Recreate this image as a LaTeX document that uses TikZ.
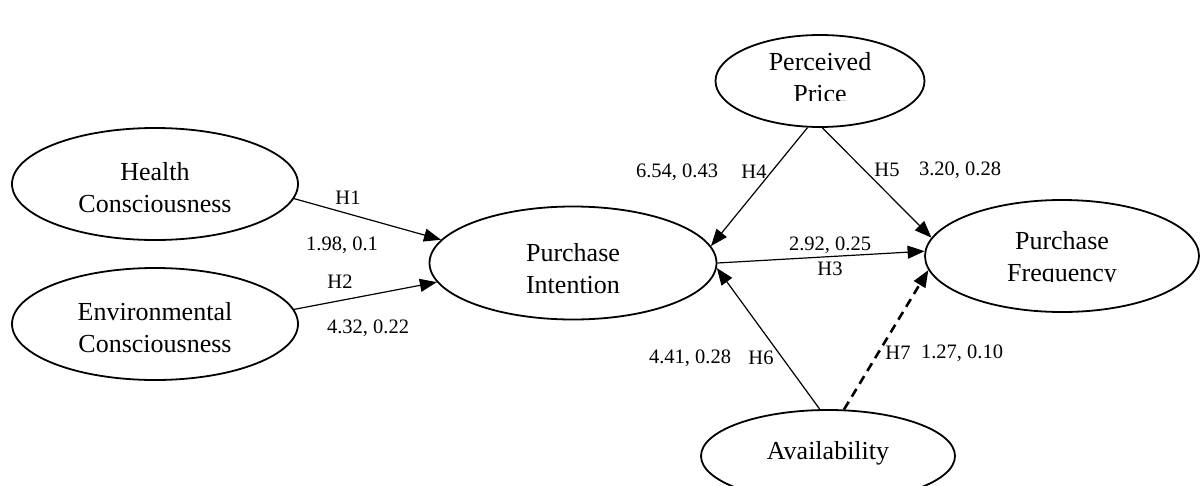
\documentclass[tikz,border=0pt]{standalone}
\usepackage{fontspec}
\setmainfont{Liberation Serif}
\usetikzlibrary{arrows.meta,shapes.geometric}
\begin{document}
\begin{tikzpicture}[x=1pt,y=-1pt,
 ell/.style={ellipse, draw, line width=1.8pt, inner sep=0pt},
 etxt/.style={align=center, font=\fontsize{26}{32}\selectfont, inner sep=0pt},
 lbl/.style={font=\fontsize{20.5}{24}\selectfont, inner sep=0pt},
 arr/.style={line width=1.2pt, -{Triangle[length=17pt,width=13pt]}},
 darr/.style={line width=2.6pt, dash pattern=on 9pt off 6pt, -{Triangle[length=17pt,width=13pt]}}]
\useasboundingbox (0,0) rectangle (1200,485);

% ellipses
\node[ell, minimum width=286pt, minimum height=112pt] (hc) at (155,184) {};
\node[ell, minimum width=286pt, minimum height=112pt] (ec) at (155,324) {};
\node[ell, minimum width=287pt, minimum height=113pt] (pi) at (573,263) {};
\node[ell, minimum width=209pt, minimum height=92pt] (pp) at (820,81) {};
\node[ell, minimum width=274pt, minimum height=112pt] (pf) at (1062,256) {};
\node[ell, minimum width=254pt, minimum height=92pt] (av) at (828,456) {};

% texts
\node[etxt] (hct) at (155,188) {Health\\Consciousness};
\node[etxt] (ect) at (155,328) {Environmental\\Consciousness};
\node[etxt] (pit) at (573,268.5) {Purchase\\Intention};
\node[etxt] (avt) at (828,453) {Availability};
% clipped texts (as in the reference)
\begin{scope}
  \clip (740,30) rectangle (900,100);
  \node[etxt] (ppt) at (820,78) {Perceived\\Price};
\end{scope}
\begin{scope}
  \clip (940,205) rectangle (1190,281.5);
  \node[etxt] (pft) at (1062,259) {Purchase\\Frequency};
\end{scope}

% connectors
\draw[arr] (hc.-6.4) -- (pi.170.8);
\draw[arr] (ec.6.7) -- (pi.188);
\draw[arr] (pi.0.5) -- (pf.178.8);
\draw[arr] (pp.255.4) -- (pi.7.1);
\draw[arr] (pp.273.7) -- (pf.172.5);
\draw[arr] (av.100) -- (pi.-2.8);
\draw[darr] (av.71.6) -- (pf.186.6);

% labels
\node[lbl] (h1) at (348,198) {H1};
\node[lbl] (v1) at (342,245) {1.98, 0.1};
\node[lbl] (h2) at (340,282) {H2};
\node[lbl] (v2) at (368,328) {4.32, 0.22};
\node[lbl] (v4) at (677,172) {6.54, 0.43};
\node[lbl] (h4) at (754,172) {H4};
\node[lbl] (h5) at (887,170) {H5};
\node[lbl] (v5) at (960,170) {3.20, 0.28};
\node[lbl] (v3) at (830,245) {2.92, 0.25};
\node[lbl] (h3) at (830,269) {H3};
\node[lbl] (v6) at (690,358) {4.41, 0.28};
\node[lbl] (h6) at (761,358) {H6};
\node[lbl] (h7) at (898,353) {H7};
\node[lbl] (v7) at (962,353) {1.27, 0.10};
\end{tikzpicture}
\end{document}
